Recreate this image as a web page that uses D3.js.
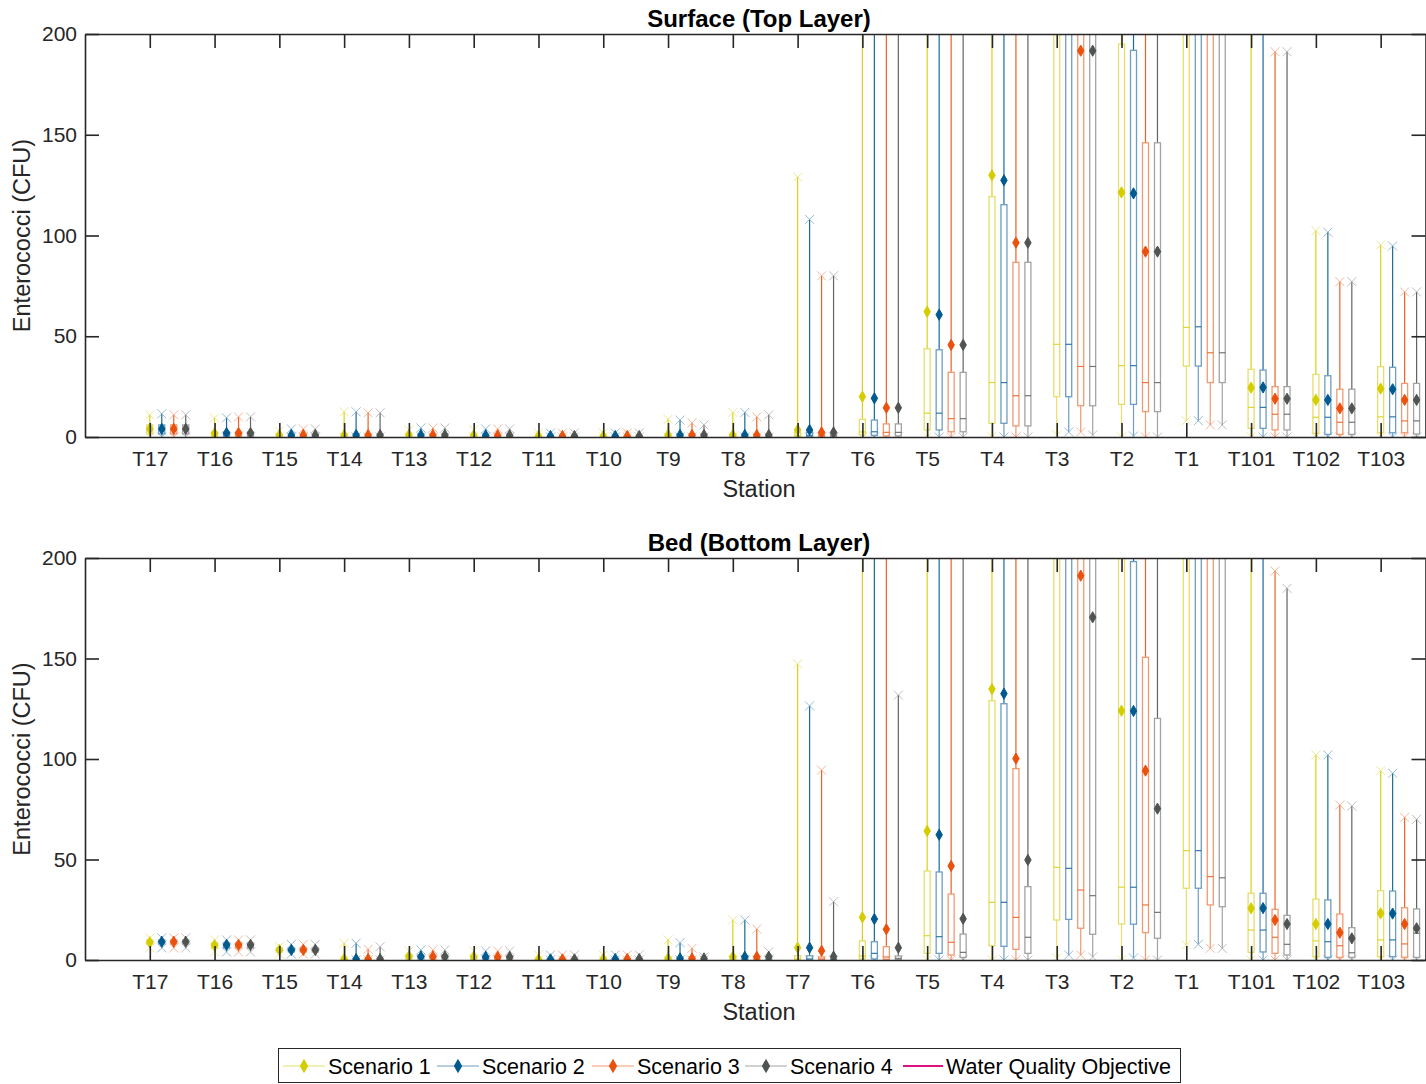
<!DOCTYPE html>
<html>
<head>
<meta charset="utf-8">
<title>Enterococci by station</title>
<script src="https://d3js.org/d3.v7.min.js"></script>
<style>
  body { margin: 0; background: #fff; }
  svg { font-family: "Liberation Sans", Arial, sans-serif; }
</style>
</head>
<body>
<svg id="chart" width="1426" height="1084"></svg>
<script>
// ---- data ----
const stations = ["T17","T16","T15","T14","T13","T12","T11","T10","T9","T8","T7","T6","T5","T4","T3","T2","T1","T101","T102","T103"];
const scenarios = ["Scenario 1","Scenario 2","Scenario 3","Scenario 4"];
const yTicks = [0, 50, 100, 150, 200];

// surface layer, one row per station, one value per scenario
const surfMin = [[0,0,0,0],[0,0,0,0],[0,0,0,0],[0,0,0,0],[0,0,0,0],[0,0,0,0],[0,0,0,0],[0,0,0,0],[0,0,0,0],[0,0,0,0],
  [0,0,0,0],[0,0,0,0],[0,0,0,0],[0,0,0,0],[1,2.5,2.5,1],[0,0.5,0,0],[8.1,8.1,6,6],[0,0,0,0],[0,0,0,0],[0,0,0,0]];
const surfQ1 = [[1.5,1.5,1.5,1.5],[0.3,0.3,0.3,0.3],[0,0,0,0],[0,0,0,0],[0,0,0,0],[0,0,0,0],[0,0,0,0],[0,0,0,0],[0,0,0,0],[0,0,0,0],
  [0.2,0.2,0.2,0.2],[1,0.8,0.5,0.5],[3.5,3.5,2.6,2.6],[6.8,6.8,5.5,5.5],[20,20,15.5,15.5],[16.2,16.2,12.6,12.6],[35.2,35.2,27,27],[4.3,4.3,3.5,3.5],[1.8,1.3,1.3,1.3],[2.1,2.1,2.1,1.5]];
const surfMed = [[3.5,3.5,3.5,3.5],[1,1,1,1],[0.3,0.3,0.3,0.3],[0.2,0.2,0.2,0.2],[0.2,0.2,0.2,0.2],[0.2,0.2,0.2,0.2],[0.1,0.1,0.1,0.1],[0.1,0.1,0.1,0.1],[0.3,0.3,0.3,0.3],[0.3,0.3,0.3,0.3],
  [0.7,0.7,0.7,0.7],[2.5,2.6,2.3,2.3],[11.8,11.8,9.1,9.1],[27,27,20.5,20.5],[46,46,35,35],[35.4,35.4,27,27],[54.4,54.7,41.8,41.8],[14.7,14.7,11.3,11.3],[9.8,9.8,7.3,7.3],[10,10,8,8]];
const surfQ3 = [[6,6,6,6],[2.5,2.5,2.5,2.5],[1,1,1,1],[0.8,0.8,0.8,0.8],[0.8,0.8,0.8,0.8],[0.8,0.8,0.8,0.8],[0.5,0.5,0.5,0.5],[0.5,0.5,0.5,0.5],[1,1,1,1],[1,1,1,1],
  [2.5,2.5,2,2],[8.8,8.4,6.5,6.5],[43.8,43.3,32.1,32.1],[119.3,115.3,86.7,86.7],[260,260,250,250],[195,191.9,146,146],[260,260,250,250],[33.6,33.2,25,25],[31.1,30.4,23.7,23.7],[34.9,34.6,26.6,26.6]];
const surfMax = [[11,11.5,11,11],[9.5,9.5,10,10],[3,4,4,4],[12.5,12.5,12,12],[3.5,4.5,4.5,4.5],[3.5,4,4,4],[2,2,2,2],[2,2,2,2],[8.8,8.4,7,6],[12.2,12.2,10,11],
  [129,108,80,80],[400,400,400,400],[400,400,400,400],[400,400,400,400],[500,500,500,500],[500,500,500,500],[500,500,500,500],[400,400,191.2,191.2],[102.4,101.6,77.1,77.1],[95.3,94.8,72,72]];
const surfMean = [[4,4,4,4],[1.8,2,2,2],[1,1,1,1],[1,1,1,1],[1,1,1,1],[0.8,0.8,0.8,0.8],[0.5,0.5,0.5,0.5],[0.5,0.5,0.5,0.5],[1,1,1,1],[1,1,1,1],
  [3.5,3.5,2.3,2.3],[20,19.2,14.5,14.5],[62.2,60.7,45.7,45.7],[129.9,127.4,96.4,96.4],[235,232,191.7,191.7],[121.4,120.9,92,92],[240,238,220,220],[24.5,24.6,19,19],[18.4,18.4,14.2,14.2],[24,23.7,18.4,18.4]];

// bed layer
const bedMin = [[6,6,6,6],[4,4,4,4],[3,3,3,3],[0,0,0,0],[0,0,0,0],[0,0,0,0],[0,0,0,0],[0,0,0,0],[0,0,0,0],[0,0,0,0],
  [0,0,0,0],[0,0,0,0],[0,0,0,0],[0,0,0,0],[1,2.5,2.5,1.5],[0,1,0,0],[7.5,7.8,5.8,5.8],[0,0,0,0],[0,0,0,0],[0,0,0,0]];
const bedQ1 = [[8,8,8,8],[6,6,6,6],[4,4,4,4],[0,0,0,0],[0.5,0.5,0.5,0.5],[0.4,0.4,0.4,0.4],[0,0,0,0],[0,0,0,0],[0,0,0,0],[0,0,0,0],
  [0,0,0,0],[0.5,0.5,0.3,0.2],[3.3,3.3,2.5,1.3],[7.1,6.8,5.3,3.3],[19.9,20.2,15.8,12.8],[17.9,17.8,13.6,10.8],[35.7,35.7,27.4,26.5],[3.8,4,3.3,2.5],[1.7,1.3,1.3,1.3],[1.7,1.7,1.3,1.3]];
const bedMed = [[9,9,9,9],[7.5,7.5,7.5,7.5],[5,5,5,5],[0.2,0.2,0.2,0.2],[1.2,1.2,1.2,1.2],[1,1,1,1],[0.1,0.1,0.1,0.1],[0.2,0.2,0.2,0.2],[0.3,0.3,0.3,0.3],[0.5,0.5,0.5,0.5],
  [0.5,0.5,0.5,0.3],[2,3.3,1.5,0.8],[12.1,11.6,8.8,3.8],[28.7,28.7,21.2,11.3],[46.1,45.6,34.8,32],[36.2,36.2,27.4,23.7],[54.4,54.4,41.5,40.9],[14.9,14.9,11.3,7.8],[9.5,9.1,7.1,3.6],[10,10,8,13.3]];
const bedQ3 = [[10,10,10,10],[8.5,8.5,8.5,8.5],[6,6,6,6],[0.8,0.8,0.8,0.8],[2.5,2.5,2.5,2.5],[2,2,2,2],[0.5,0.5,0.5,0.5],[0.6,0.6,0.6,0.6],[1,1,1,0.6],[2,2,1.5,1],
  [2.1,2.1,1.5,0.8],[9.5,9.1,6.6,2],[44.3,43.8,32.8,12.9],[129,127.5,95.2,36.5],[260,260,250,250],[210,198.2,150.6,120.2],[260,260,250,250],[33.2,33.2,25.2,22.2],[30.3,29.9,22.9,16.1],[34.5,34.3,26,25.4]];
const bedMax = [[11,11,11,11],[10,10,10,10],[6.6,7.8,7.8,7.8],[8.3,8.3,5.3,6.6],[4.5,5,5,5],[4.5,4.5,4.5,4.5],[2.5,2.5,2.5,2.5],[2.5,2.5,2.5,2.5],[10,8.6,5.8,1.5],[19.9,19.9,15.4,4.1],
  [147.3,126.4,94.5,29],[400,400,400,131.8],[400,400,400,400],[400,400,400,400],[500,500,500,500],[500,500,500,500],[500,500,500,500],[400,400,193.5,184.9],[102,102,77.1,76.6],[94.2,92.9,71,70]];
const bedMean = [[8.8,9.1,9.1,9.1],[7.3,7.5,7.5,7.5],[5,5,5,5],[0.5,0.5,0.5,0.5],[1.7,1.7,1.7,1.7],[1.5,1.5,1.5,1.5],[0.3,0.3,0.3,0.3],[0.5,0.5,0.5,0.5],[0.8,0.8,0.8,0.8],[1.6,1.6,1.6,1.6],
  [6.1,6.1,4.6,1.7],[21.2,20.4,15.3,6.1],[64.2,62.3,46.8,20.5],[134.8,132.5,100.2,49.8],[235,232,191.2,170.5],[124,123.9,94.2,75.3],[240,238,220,220],[25.7,25.8,19.9,17.9],[17.9,17.9,13.6,10.8],[23.2,23.1,17.9,15.8]];

// ---- styling ----
const colors = ["#d4cd00", "#005a8e", "#e8520e", "#4f5451"];
const lightColors = ["#e4df6a", "#6d9fc0", "#f09a73", "#a3a3a3"];
const axisColor = "#262626";
const offsetUnits = 0.185;   // spacing between scenario boxes, in station units
const boxW = 6;

const svg = d3.select("#chart");
const x = d3.scaleLinear().domain([0, 20.7]).range([85, 1426]);

const panels = [
  {title: "Surface (Top Layer)", top: 34, bottom: 437, min: surfMin, q1: surfQ1, med: surfMed, q3: surfQ3, max: surfMax, mean: surfMean},
  {title: "Bed (Bottom Layer)", top: 558, bottom: 960, min: bedMin, q1: bedQ1, med: bedMed, q3: bedQ3, max: bedMax, mean: bedMean}
];

const diamond = d3.symbol().type(d3.symbolDiamond).size(36);

panels.forEach((p, pi) => {
  const y = d3.scaleLinear().domain([0, 200]).range([p.bottom, p.top]);
  const g = svg.append("g");

  const clipId = "clip" + pi;
  svg.append("clipPath").attr("id", clipId)
    .append("rect").attr("x", x(0)).attr("y", p.top).attr("width", x(20.7) - x(0)).attr("height", p.bottom - p.top);

  const plot = g.append("g").attr("clip-path", `url(#${clipId})`);

  stations.forEach((st, i) => {
    scenarios.forEach((sc, k) => {
      const cx = x(i + 1 + k * offsetUnits);
      const c = colors[k], lc = lightColors[k];
      const mn = p.min[i][k], q1 = p.q1[i][k], md = p.med[i][k], q3 = p.q3[i][k], mx = p.max[i][k], mean = p.mean[i][k];
      const grp = plot.append("g");

      // lower whisker
      grp.append("line").attr("x1", cx).attr("x2", cx).attr("y1", y(mn)).attr("y2", y(q1))
        .attr("stroke", lc).attr("stroke-width", 1.2);
      // upper whisker
      grp.append("line").attr("x1", cx).attr("x2", cx).attr("y1", y(q3)).attr("y2", y(mx))
        .attr("stroke", c).attr("stroke-width", 1.2).attr("stroke-opacity", 0.9);
      // box
      grp.append("rect").attr("x", cx - boxW / 2).attr("y", y(q3)).attr("width", boxW)
        .attr("height", Math.max(0, y(q1) - y(q3)))
        .attr("fill", "none").attr("stroke", lc).attr("stroke-width", 1.3);
      // median
      grp.append("line").attr("x1", cx - boxW / 2).attr("x2", cx + boxW / 2).attr("y1", y(md)).attr("y2", y(md))
        .attr("stroke", c).attr("stroke-width", 1.2).attr("stroke-opacity", 0.8);
      // min / max crosses
      [mn, mx].forEach(v => {
        const yy = y(v);
        grp.append("path").attr("d", `M${cx - 4.5},${yy - 4.5}L${cx + 4.5},${yy + 4.5}M${cx - 4.5},${yy + 4.5}L${cx + 4.5},${yy - 4.5}`)
          .attr("stroke", lc).attr("stroke-width", 1).attr("stroke-opacity", 0.7).attr("fill", "none");
      });
      // mean
      grp.append("path").attr("d", diamond).attr("transform", `translate(${cx},${y(mean)})`)
        .attr("fill", c).attr("stroke", c).attr("stroke-width", 1);
    });
  });

  // axes (ticks point inward, MATLAB style)
  const xb = d3.axisBottom(x).tickValues(d3.range(1, stations.length + 1)).tickFormat(d => stations[d - 1])
    .tickSizeInner(-14).tickSizeOuter(0).tickPadding(14);
  const xt = d3.axisTop(x).tickValues(d3.range(1, stations.length + 1)).tickFormat("")
    .tickSizeInner(-14).tickSizeOuter(0);
  const yl = d3.axisLeft(y).tickValues(yTicks).tickSizeInner(-14).tickSizeOuter(0).tickPadding(8);
  const yr = d3.axisRight(y).tickValues(yTicks).tickFormat("").tickSizeInner(-14).tickSizeOuter(0);

  const axG = [
    g.append("g").attr("transform", `translate(0,${p.bottom})`).call(xb),
    g.append("g").attr("transform", `translate(0,${p.top})`).call(xt),
    g.append("g").attr("transform", `translate(${x(0)},0)`).call(yl),
    g.append("g").attr("transform", `translate(${x(20.7) - 0.5},0)`).call(yr)
  ];
  axG.forEach(a => {
    a.selectAll("path.domain").attr("stroke", axisColor).attr("stroke-width", 1.6);
    a.selectAll(".tick line").attr("stroke", axisColor).attr("stroke-width", 1.6);
    a.selectAll(".tick text").attr("fill", axisColor).style("font-size", "21px").style("font-family", "Liberation Sans, Arial, sans-serif");
  });

  // title and labels
  g.append("text").attr("x", 759).attr("y", p.top - 7).attr("text-anchor", "middle")
    .attr("fill", "#000").style("font-size", "24px").style("font-weight", "bold").text(p.title);
  g.append("text").attr("x", 759).attr("y", p.bottom + 60).attr("text-anchor", "middle")
    .attr("fill", axisColor).style("font-size", "23.5px").text("Station");
  g.append("text").attr("transform", `translate(30,${(p.top + p.bottom) / 2}) rotate(-90)`)
    .attr("text-anchor", "middle").attr("fill", axisColor).style("font-size", "23.5px").text("Enterococci (CFU)");
});

// ---- legend ----
const legendItems = scenarios.map((s, k) => ({label: s, color: colors[k], light: lightColors[k], marker: true}))
  .concat([{label: "Water Quality Objective", color: "#e0107e", light: "#e0107e", marker: false}]);
const lg = svg.append("g");
lg.append("rect").attr("x", 278.5).attr("y", 1048.5).attr("width", 902).attr("height", 34)
  .attr("fill", "#fff").attr("stroke", axisColor).attr("stroke-width", 1);
const legendX = [283, 437, 592, 745, 903];
legendItems.forEach((d, i) => {
  const lx = legendX[i];
  const ly = 1066;
  const w = d.marker ? 42 : 40;
  lg.append("line").attr("x1", lx).attr("x2", lx + w).attr("y1", ly).attr("y2", ly)
    .attr("stroke", d.marker ? d.light : d.color).attr("stroke-width", d.marker ? 1.2 : 2.2);
  if (d.marker) {
    lg.append("path").attr("d", d3.symbol().type(d3.symbolDiamond).size(60)).attr("transform", `translate(${lx + w / 2},${ly})`)
      .attr("fill", d.color);
  }
  lg.append("text").attr("x", lx + w + 3).attr("y", ly + 8).attr("fill", "#000")
    .style("font-size", "21.5px").text(d.label);
});
</script>
</body>
</html>
